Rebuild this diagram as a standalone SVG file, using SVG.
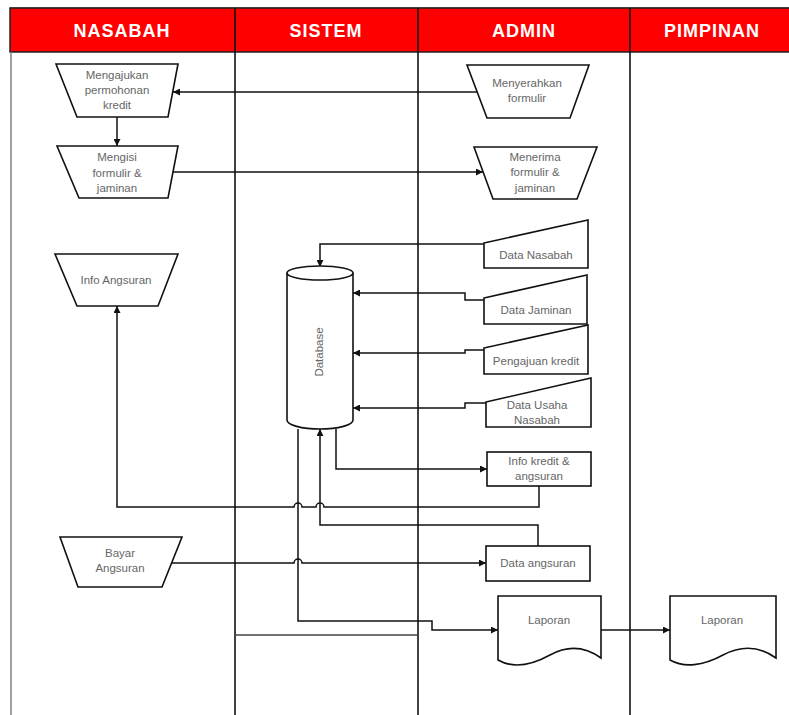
<svg xmlns="http://www.w3.org/2000/svg" width="789" height="715" viewBox="0 0 789 715">
<style>
.hdr{font-family:"Liberation Sans",Arial,sans-serif;font-weight:bold;font-size:18px;fill:#fff;letter-spacing:1px;text-anchor:middle}
.t{font-family:"Liberation Sans",Arial,sans-serif;font-size:11.5px;fill:#666;text-anchor:middle}
.shape{fill:#fff;stroke:#111;stroke-width:1.6}
.lane{stroke:#111;stroke-width:1.6;fill:none}
.con{fill:none;stroke:#111;stroke-width:1.5}
</style>
<defs>
<marker id="arr" viewBox="0 0 10 10" refX="10" refY="5" markerWidth="7" markerHeight="7" markerUnits="userSpaceOnUse" orient="auto">
<path d="M0,0 L10,5 L0,10 Z" fill="#111"/>
</marker>
</defs>
<rect width="789" height="715" fill="#fff"/>
<g id="lanes">
<line x1="10" y1="7.5" x2="789" y2="7.5" stroke="#999" stroke-width="1"/>
<rect x="10" y="8" width="781" height="44" fill="#f00" stroke="#222" stroke-width="1.5"/>
<line x1="11" y1="52" x2="11" y2="715" stroke="#888" stroke-width="1.6"/>
<line class="lane" x1="235" y1="8" x2="235" y2="715"/>
<line class="lane" x1="418" y1="8" x2="418" y2="715"/>
<line class="lane" x1="630" y1="8" x2="630" y2="715"/>
<line x1="235" y1="635" x2="418" y2="635" stroke="#444" stroke-width="1.6"/>
<text class="hdr" x="122" y="37">NASABAH</text>
<text class="hdr" x="326" y="37">SISTEM</text>
<text class="hdr" x="524" y="37">ADMIN</text>
<text class="hdr" x="712" y="37">PIMPINAN</text>
</g>
<g id="connectors">
<path class="con" d="M477,92 H173" marker-end="url(#arr)"/>
<path class="con" d="M117,117 V146" marker-end="url(#arr)"/>
<path class="con" d="M173,172 H483" marker-end="url(#arr)"/>
<path class="con" d="M484,244 H320 V267" marker-end="url(#arr)"/>
<path class="con" d="M484,300 H465 V293 H353" marker-end="url(#arr)"/>
<path class="con" d="M484,350 H465 V353 H353" marker-end="url(#arr)"/>
<path class="con" d="M486,403 H465 V408 H353" marker-end="url(#arr)"/>
<path class="con" d="M336,429 V469 H487" marker-end="url(#arr)"/>
<path class="con" d="M539,486 V507 H324 A4,4 0 0 0 316,507 H302 A4,4 0 0 0 294,507 H117 V306" marker-end="url(#arr)"/>
<path class="con" d="M538,546 V525 H320 V429" marker-end="url(#arr)"/>
<path class="con" d="M172,563 H294 A4,4 0 0 1 302,563 H486" marker-end="url(#arr)"/>
<path class="con" d="M298,429 V621 H432 V630 H498" marker-end="url(#arr)"/>
<path class="con" d="M601,630 H670" marker-end="url(#arr)"/>
</g>
<g id="n-mengajukan">
<path class="shape" d="M56,64 H178 L168,117 H77 Z"/>
<text class="t" x="117" y="79">Mengajukan</text>
<text class="t" x="117" y="94">permohonan</text>
<text class="t" x="117" y="109">kredit</text>
</g>
<g id="n-mengisi">
<path class="shape" d="M57,146 H178 L168,198 H79 Z"/>
<text class="t" x="117" y="161">Mengisi</text>
<text class="t" x="117" y="177">formulir &amp;</text>
<text class="t" x="117" y="192">jaminan</text>
</g>
<g id="n-menyerahkan">
<path class="shape" d="M467,65 H589 L570,118 H487 Z"/>
<text class="t" x="527" y="87">Menyerahkan</text>
<text class="t" x="527" y="102">formulir</text>
</g>
<g id="n-menerima">
<path class="shape" d="M474,147 H597 L577,199 H493 Z"/>
<text class="t" x="535" y="161">Menerima</text>
<text class="t" x="535" y="176">formulir &amp;</text>
<text class="t" x="535" y="192">jaminan</text>
</g>
<g id="n-info-angsuran">
<path class="shape" d="M55,254 H178 L158,306 H77 Z"/>
<text class="t" x="116" y="284">Info Angsuran</text>
</g>
<g id="n-database">
<path class="shape" d="M287,273 V420 A33,9 0 0 0 353,420 V273"/>
<ellipse class="shape" cx="320" cy="273" rx="33" ry="7"/>
<text class="t" transform="translate(323,352) rotate(-90)">Database</text>
</g>
<g id="n-data-nasabah">
<path class="shape" d="M484,243 L588,220 V268 H484 Z"/>
<text class="t" x="536" y="259">Data Nasabah</text>
</g>
<g id="n-data-jaminan">
<path class="shape" d="M484,298 L587,275 V324 H484 Z"/>
<text class="t" x="536" y="314">Data Jaminan</text>
</g>
<g id="n-pengajuan">
<path class="shape" d="M484,348 L588,325 V374 H484 Z"/>
<text class="t" x="536" y="365">Pengajuan kredit</text>
</g>
<g id="n-data-usaha">
<path class="shape" d="M486,402 L591,378 V427 H486 Z"/>
<text class="t" x="537" y="409">Data Usaha</text>
<text class="t" x="537" y="424">Nasabah</text>
</g>
<g id="n-info-kredit">
<rect class="shape" x="487" y="452" width="104" height="34"/>
<text class="t" x="539" y="465">Info kredit &amp;</text>
<text class="t" x="539" y="480">angsuran</text>
</g>
<g id="n-bayar">
<path class="shape" d="M60,537 H182 L162,587 H78 Z"/>
<text class="t" x="120" y="557">Bayar</text>
<text class="t" x="120" y="572">Angsuran</text>
</g>
<g id="n-data-angsuran">
<rect class="shape" x="486" y="546" width="104" height="35"/>
<text class="t" x="538" y="567">Data angsuran</text>
</g>
<g id="n-laporan-admin">
<path class="shape" d="M498,596 H601 V658 C587,648 570,644 550,655 C530,666 512,668 498,660 Z"/>
<text class="t" x="549" y="624">Laporan</text>
</g>
<g id="n-laporan-pimpinan">
<path class="shape" d="M670,596 H776 V658 C762,648 744,644 723,655 C703,666 684,668 670,660 Z"/>
<text class="t" x="722" y="624">Laporan</text>
</g>
</svg>
